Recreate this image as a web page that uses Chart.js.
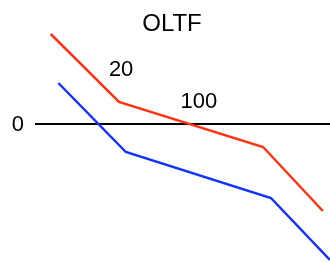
<!DOCTYPE html>
<html>
<head>
<meta charset="utf-8">
<script src="https://cdn.jsdelivr.net/npm/chart.js@4/dist/chart.umd.min.js"></script>
<style>
  html, body { margin: 0; padding: 0; background: #fff; overflow: hidden; }
  #wrap { width: 330px; height: 262px; position: relative; }
</style>
</head>
<body>
<div id="wrap"><canvas id="oltf"></canvas></div>
<script>
  'use strict'

  // frequency (log axis) and gain in dB
  var redFreq = [4.2, 20, 540, 2120];
  var redDb = [18, 4.4, -4.6, -17.4];
  var blueFreq = [5, 23.4, 646, 2490];
  var blueDb = [8.2, -5.6, -14.8, -27.2];

  // annotations placed next to the curves
  var noteText = ['20', '100'];
  var noteFreq = [21, 124];
  var noteDb = [10.8, 4.5];

  var yTicks = [0];
  var titleText = 'OLTF';
  var font = '"Liberation Sans", Arial, sans-serif';

  function toPoints(xs, ys) {
    return xs.map(function (x, i) { return { x: x, y: ys[i] }; });
  }

  // zero axis line, its tick label, curve labels and title
  var labelsPlugin = {
    id: 'labels',
    beforeDatasetsDraw: function (chart) {
      var c = chart.ctx, a = chart.chartArea, ys = chart.scales.y;
      c.save();
      c.strokeStyle = '#000';
      c.lineWidth = 2;
      yTicks.forEach(function (v) {
        var py = ys.getPixelForValue(v);
        c.beginPath();
        c.moveTo(a.left, py);
        c.lineTo(a.right, py);
        c.stroke();
      });
      c.restore();
    },
    afterDraw: function (chart) {
      var c = chart.ctx, a = chart.chartArea;
      var xs = chart.scales.x, ys = chart.scales.y;
      c.save();
      c.fillStyle = '#000';
      c.textBaseline = 'middle';
      c.font = '22px ' + font;
      c.textAlign = 'right';
      yTicks.forEach(function (v) {
        c.fillText(String(v), a.left - 11, ys.getPixelForValue(v) + 1);
      });
      c.textAlign = 'center';
      noteText.forEach(function (t, i) {
        c.fillText(t, xs.getPixelForValue(noteFreq[i]), ys.getPixelForValue(noteDb[i]));
      });
      c.font = '24px ' + font;
      c.fillText(titleText, 172, 24);
      c.restore();
    }
  };

  new Chart(document.getElementById('oltf').getContext('2d'), {
    type: 'line',
    data: {
      datasets: [
        { data: toPoints(redFreq, redDb), borderColor: '#ff3311', borderWidth: 2.5, pointRadius: 0, fill: false, tension: 0 },
        { data: toPoints(blueFreq, blueDb), borderColor: '#1133ff', borderWidth: 2.5, pointRadius: 0, fill: false, tension: 0 }
      ]
    },
    options: {
      responsive: true,
      maintainAspectRatio: false,
      animation: false,
      layout: { padding: { left: 35, right: 0, top: 0, bottom: 0 } },
      plugins: { legend: { display: false }, tooltip: { enabled: false }, title: { display: false } },
      scales: {
        x: { type: 'logarithmic', min: 2.93, max: 2494, display: false },
        y: { min: -27.6, max: 24.8, display: false }
      }
    },
    plugins: [labelsPlugin]
  });
</script>
</body>
</html>
